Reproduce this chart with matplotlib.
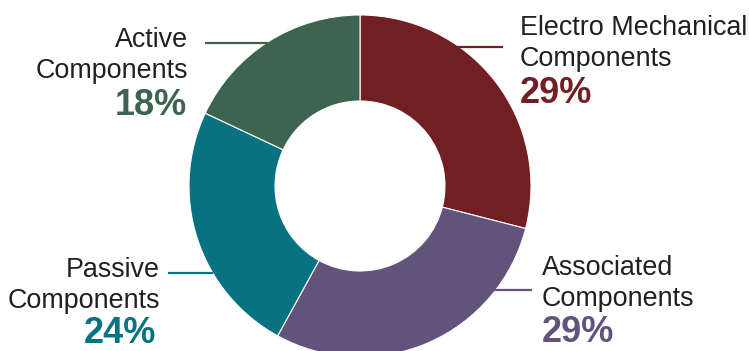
import matplotlib.pyplot as plt

# Component share data
categories = ["Electro Mechanical\nComponents", "Associated\nComponents",
              "Passive\nComponents", "Active\nComponents"]
shares = [29, 29, 24, 18]
colors = ["#721f23", "#62537a", "#077381", "#3d644f"]

W, H = 749, 351
fig = plt.figure(figsize=(W / 100, H / 100), dpi=100)
ax = fig.add_axes([0, 0, 1, 1])

cx, cy, R = 360, H - 186, 171
ax.pie(shares, colors=colors, startangle=90, counterclock=False,
       center=(cx, cy), radius=R, frame=True,
       wedgeprops=dict(width=86, edgecolor="white", linewidth=0.8))
ax.set_xlim(0, W)
ax.set_ylim(0, H)
ax.set_aspect("equal")
ax.axis("off")

text_color = "#231f20"
font = "Liberation Sans"

# label placement: (x, first baseline, percent baseline, percent x shift,
#                   leader line x0, x1, y)
layout = [
    (520, 35, 103, 0, 457, 503, 47),
    (542, 275, 342, 0, 493, 532, 290),
    (160, 277, 343, -4, 168, 213, 273),
    (188, 47, 115, -1, 205, 268, 43),
]

for name, val, col, (x, y0, yp, dx, lx0, lx1, ly) in zip(categories, shares, colors, layout):
    ha = "right" if x < cx else "left"
    line1, line2 = name.split("\n")
    ax.text(x, H - y0, line1, ha=ha, va="baseline", fontsize=19.4,
            color=text_color, family=font)
    ax.text(x, H - (y0 + 31), line2, ha=ha, va="baseline", fontsize=19.4,
            color=text_color, family=font)
    ax.text(x + dx, H - yp, f"{val}%", ha=ha, va="baseline", fontsize=26,
            fontweight="bold", color=col, family=font)
    ax.plot([lx0, lx1], [H - ly, H - ly], color=col, lw=1.6, solid_capstyle="butt")

fig.savefig("out.png", dpi=100)
